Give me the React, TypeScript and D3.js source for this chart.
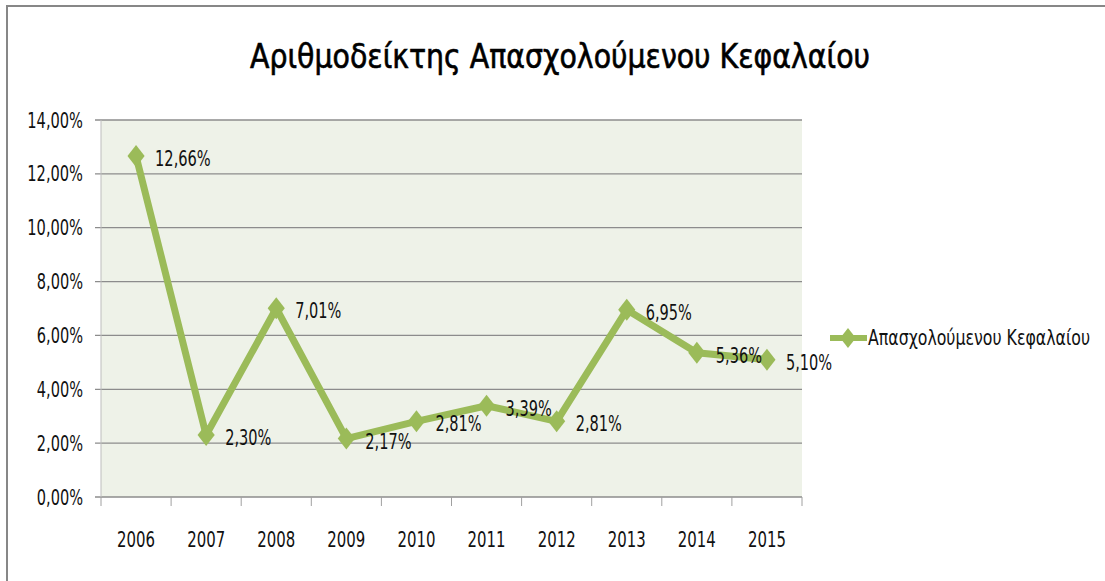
import React from "react";
import * as d3 from "d3";

const years = ["2006", "2007", "2008", "2009", "2010", "2011", "2012", "2013", "2014", "2015"];
const values = [12.66, 2.3, 7.01, 2.17, 2.81, 3.39, 2.81, 6.95, 5.36, 5.1];
const yTicks = [0, 2, 4, 6, 8, 10, 12, 14];
const title = "Αριθμοδείκτης Απασχολούμενου Κεφαλαίου";
const seriesName = "Απασχολούμενου Κεφαλαίου";

const W = 1105;
const H = 581;
const plot = { left: 101, right: 802, top: 120, bottom: 497 };
const GREEN = "#9BBB59";
const FONT = "'Liberation Sans Narrow', 'DejaVu Sans Condensed', 'Open Sans', sans-serif";

const fmt = (v: number) => v.toFixed(2).replace(".", ",") + "%";
// approximate narrow-font widths of numeric labels
const numWidth = (s: string) =>
  Array.from(s).reduce((w, c) => w + (c === "," ? 4.2 : c === "%" ? 13.5 : 9.5), 0);

export default function App() {
  const x = d3.scaleBand<string>().domain(years).range([plot.left, plot.right]);
  const y = d3.scaleLinear().domain([0, 14]).range([plot.bottom, plot.top]);
  const cx = (d: string) => (x(d) as number) + x.bandwidth() / 2;
  const line = d3
    .line<number>()
    .x((_, i) => cx(years[i]))
    .y((v) => y(v));
  const diamond = (px: number, py: number, r: number) =>
    `M${px},${py - r}L${px + r * 0.78},${py}L${px},${py + r}L${px - r * 0.78},${py}Z`;
  const boundaries = years.map((d) => x(d) as number).concat([plot.right]);

  return (
    <svg
      width={W}
      height={H}
      style={{ position: "absolute", left: 0, top: 0, background: "#fff" }}
      fontFamily={FONT}
    >
      <rect x={7} y={6} width={W + 10} height={H + 10} fill="#fff" stroke="#878787" strokeWidth={2} />
      <text
        x={250}
        y={68}
        fontSize={34}
        fill="#000"
        stroke="#000"
        strokeWidth={0.6}
        textLength={620}
        lengthAdjust="spacingAndGlyphs"
      >
        {title}
      </text>
      <rect
        x={plot.left}
        y={plot.top}
        width={plot.right - plot.left}
        height={plot.bottom - plot.top}
        fill="#EEF2E8"
      />
      {yTicks.map((t) => (
        <g key={t}>
          <line x1={plot.left - 6} x2={plot.right} y1={y(t)} y2={y(t)} stroke="#8c8c8c" strokeWidth={1.3} />
          <text
            x={plot.left - 18}
            y={y(t)}
            dy="0.36em"
            textAnchor="end"
            fontSize={21}
            fill="#111"
            textLength={numWidth(fmt(t))}
            lengthAdjust="spacingAndGlyphs"
          >
            {fmt(t)}
          </text>
        </g>
      ))}
      <line x1={plot.left} x2={plot.left} y1={plot.top} y2={plot.bottom} stroke="#bdbdbd" strokeWidth={1} />
      {boundaries.map((b, i) => (
        <line key={i} x1={b} x2={b} y1={plot.bottom} y2={plot.bottom + 9} stroke="#a0a0a0" strokeWidth={1} />
      ))}
      {years.map((d) => (
        <text
          key={d}
          x={cx(d)}
          y={plot.bottom + 50}
          textAnchor="middle"
          fontSize={21}
          fill="#111"
          textLength={numWidth(d)}
          lengthAdjust="spacingAndGlyphs"
        >
          {d}
        </text>
      ))}
      <path d={line(values) || ""} fill="none" stroke={GREEN} strokeWidth={7} strokeLinejoin="round" />
      {values.map((v, i) => (
        <path key={i} d={diamond(cx(years[i]), y(v), 11)} fill={GREEN} />
      ))}
      {values.map((v, i) => (
        <text
          key={i}
          x={cx(years[i]) + 19}
          y={y(v) + 2.5}
          dy="0.36em"
          fontSize={21}
          fill="#111"
          textLength={numWidth(fmt(v))}
          lengthAdjust="spacingAndGlyphs"
        >
          {fmt(v)}
        </text>
      ))}
      <line x1={830} x2={867} y1={338} y2={338} stroke={GREEN} strokeWidth={6} />
      <path d={diamond(848, 338, 10)} fill={GREEN} />
      <text
        transform="translate(868,345) scale(1,1.2)"
        fontSize={17.5}
        fill="#111"
        textLength={222}
        lengthAdjust="spacingAndGlyphs"
      >
        {seriesName}
      </text>
    </svg>
  );
}
